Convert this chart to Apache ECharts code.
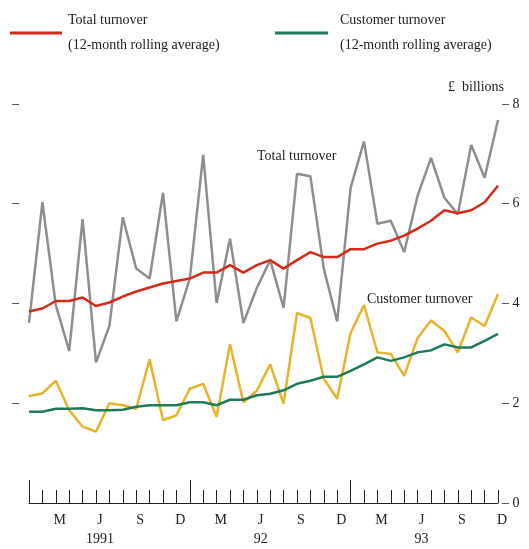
<!DOCTYPE html><html><head><meta charset="utf-8"><script src="https://cdn.jsdelivr.net/npm/echarts@6/dist/echarts.min.js"></script>
<style>body{margin:0;background:#fff}#c{width:529px;height:549px}</style></head><body><div id="c"></div><script>
const months=['J','F','M','A','M','J','J','A','S','O','N','D'];
const categories=[];for(let y=0;y<3;y++)for(const m of months)categories.push(m);
const years=['1991','92','93'];
const totalTurnover=[3.61,6.03,3.97,3.05,5.69,2.82,3.55,5.73,4.70,4.50,6.22,3.64,4.50,6.98,4.01,5.30,3.61,4.31,4.87,3.91,6.60,6.55,4.70,3.64,6.32,7.25,5.60,5.66,5.03,6.16,6.92,6.12,5.79,7.18,6.52,7.68];
const totalAvg=[3.84,3.90,4.05,4.05,4.12,3.95,4.02,4.14,4.24,4.32,4.40,4.45,4.50,4.62,4.62,4.77,4.62,4.77,4.87,4.70,4.87,5.03,4.93,4.93,5.09,5.09,5.20,5.26,5.36,5.50,5.66,5.87,5.81,5.87,6.03,6.36];
const customerTurnover=[2.14,2.20,2.45,1.86,1.53,1.43,2.00,1.96,1.89,2.88,1.66,1.76,2.29,2.39,1.73,3.18,2.02,2.25,2.78,1.99,3.81,3.71,2.49,2.09,3.41,3.97,3.02,2.99,2.55,3.31,3.66,3.45,3.02,3.72,3.55,4.19];
const customerAvg=[1.83,1.83,1.89,1.89,1.90,1.86,1.86,1.87,1.93,1.96,1.96,1.96,2.02,2.02,1.96,2.07,2.07,2.16,2.19,2.26,2.39,2.45,2.53,2.53,2.65,2.78,2.92,2.85,2.92,3.02,3.06,3.18,3.12,3.12,3.25,3.39];
const F='Liberation Serif, DejaVu Serif, serif';
const show=i=>i%3===2;
const ch=echarts.init(document.getElementById('c'));
const line=(d,c,w,z)=>({type:'line',data:d,symbol:'none',lineStyle:{color:c,width:w},z:z,animation:false});
ch.setOption({
 grid:{left:29,right:31,top:104,bottom:42},
 xAxis:[{type:'category',data:categories,boundaryGap:false,
   axisLine:{lineStyle:{color:'#222',width:1}},
   axisTick:{alignWithLabel:true,interval:0,length:-13,lineStyle:{color:'#222'}},
   axisLabel:{interval:(i)=>show(i),margin:8,fontFamily:F,fontSize:14,color:'#222',lineHeight:19,padding:[0,0,0,8],
     formatter:(v,i)=>{if(i%12===5)return v+'\n'+years[Math.floor(i/12)];return v;}}},
  {type:'category',data:categories,boundaryGap:false,position:'bottom',axisLine:{show:false},
   axisTick:{interval:i=>i%12===0,length:-23,lineStyle:{color:'#222'}},axisLabel:{show:false}}],
 yAxis:[{type:'value',min:0,max:8,interval:2,position:'right',splitLine:{show:false},axisLine:{show:false},axisTick:{show:false},
   axisLabel:{formatter:v=>'– '+v,fontFamily:F,fontSize:14,color:'#222',margin:4}},
  {type:'value',min:0,max:8,interval:2,position:'left',splitLine:{show:false},axisLine:{show:false},axisTick:{show:false},
   axisLabel:{formatter:v=>v===0?'':'–',fontFamily:F,fontSize:14,color:'#222',margin:10}}],
 series:[line(totalTurnover,'#8e8e8e',2.5,2),line(totalAvg,'#d42a1a',2.5,3),line(customerTurnover,'#e8b22a',2.5,2),line(customerAvg,'#1f7a5a',2.5,3)],
 graphic:[
  {type:'line',shape:{x1:10,y1:33,x2:62,y2:33},style:{stroke:'#d42a1a',lineWidth:3}},
  {type:'text',left:68,top:13,style:{text:'Total turnover',font:'14px '+F,fill:'#222'}},
  {type:'text',left:68,top:38,style:{text:'(12-month rolling average)',font:'14px '+F,fill:'#222'}},
  {type:'line',shape:{x1:275,y1:33,x2:328,y2:33},style:{stroke:'#1f7a5a',lineWidth:3}},
  {type:'text',left:340,top:13,style:{text:'Customer turnover',font:'14px '+F,fill:'#222'}},
  {type:'text',left:340,top:38,style:{text:'(12-month rolling average)',font:'14px '+F,fill:'#222'}},
  {type:'text',left:448,top:80,style:{text:'£  billions',font:'14px '+F,fill:'#222'}},
  {type:'text',left:257,top:149,style:{text:'Total turnover',font:'14px '+F,fill:'#222'}},
  {type:'text',left:367,top:292,style:{text:'Customer turnover',font:'14px '+F,fill:'#222'}}
 ]});
</script></body></html>
